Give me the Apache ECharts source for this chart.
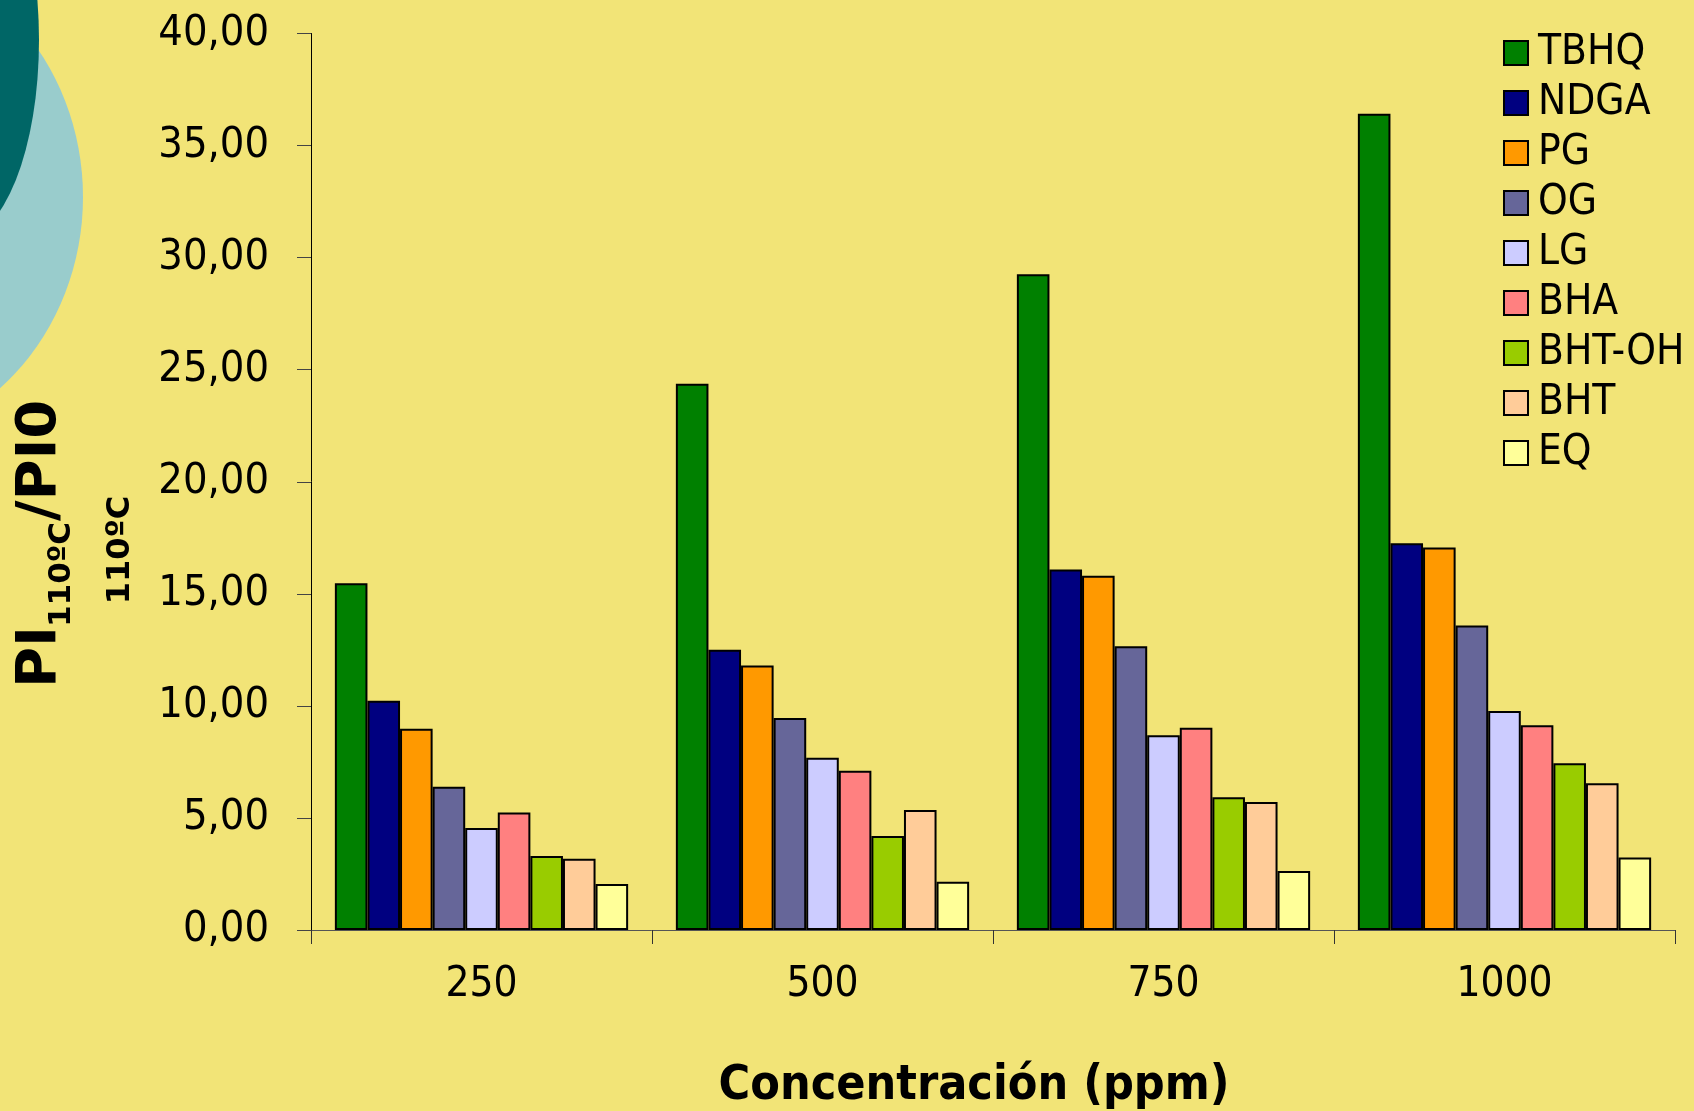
<!DOCTYPE html>
<html>
<head>
<meta charset="utf-8">
<script src="https://cdn.jsdelivr.net/npm/echarts@6/dist/echarts.min.js"></script>
<style>
html,body{margin:0;padding:0;background:#F2E477;}
#c{width:1694px;height:1111px;}
</style>
</head>
<body>
<div id="c"></div>
<script>
const categories = ['250', '500', '750', '1000'];
const seriesNames = ['TBHQ', 'NDGA', 'PG', 'OG', 'LG', 'BHA', 'BHT-OH', 'BHT', 'EQ'];
const tbhq  = [15.47, 24.37, 29.26, 36.42];
const ndga  = [10.23, 12.50, 16.08, 17.26];
const pg    = [8.98, 11.80, 15.81, 17.07];
const og    = [6.39, 9.46, 12.66, 13.59];
const lg    = [4.55, 7.68, 8.69, 9.77];
const bha   = [5.24, 7.10, 9.02, 9.14];
const bhtoh = [3.30, 4.19, 5.92, 7.44];
const bht   = [3.18, 5.35, 5.71, 6.55];
const eq    = [2.05, 2.15, 2.63, 3.24];
const seriesValues = [tbhq, ndga, pg, og, lg, bha, bhtoh, bht, eq];
const colors = ['#008000', '#000080', '#FF9900', '#666699', '#CCCCFF', '#FF8080', '#99CC00', '#FFCC99', '#FFFF99'];

const FONT = '"DejaVu Sans Condensed", "DejaVu Sans", sans-serif';
const chart = echarts.init(document.getElementById('c'), null, {renderer: 'canvas'});

const option = {
  backgroundColor: '#F2E477',
  animation: false,
  color: colors,
  grid: {left: 311, right: 19, top: 33.5, bottom: 181, containLabel: false},
  legend: {
    orient: 'vertical',
    left: 1503,
    top: 32,
    padding: 0,
    itemWidth: 24,
    itemHeight: 24,
    itemGap: 8,
    icon: 'rect',
    itemStyle: {borderColor: '#000', borderWidth: 2},
    textStyle: {fontFamily: FONT, fontSize: 42, color: '#000', padding: [0, 0, 0, 5]},
    data: seriesNames
  },
  xAxis: {
    type: 'category',
    data: categories,
    boundaryGap: true,
    axisLine: {show: true, lineStyle: {color: '#555', width: 1}},
    axisTick: {show: true, length: 14, inside: false, lineStyle: {color: '#333'}},
    axisLabel: {fontFamily: FONT, fontSize: 42, color: '#000', margin: 34}
  },
  yAxis: {
    type: 'value',
    min: 0,
    max: 40,
    interval: 5,
    splitLine: {show: false},
    axisLine: {show: true, lineStyle: {color: '#000', width: 1}},
    axisTick: {show: true, length: 14, inside: false, lineStyle: {color: '#444'}},
    axisLabel: {
      fontFamily: FONT, fontSize: 43, color: '#000', margin: 42,
      formatter: v => v.toFixed(2).replace('.', ',')
    }
  },
  series: seriesNames.map((name, i) => ({
    name: name,
    type: 'bar',
    data: seriesValues[i],
    barGap: '0%',
    barCategoryGap: '14%',
    itemStyle: {color: colors[i], borderColor: '#000', borderWidth: 2}
  })),
  graphic: [
    {type: 'circle', x: -150, y: 197, scaleX: 1, scaleY: 250 / 233, shape: {cx: 0, cy: 0, r: 233}, style: {fill: '#99CCCC'}, z: -10, silent: true},
    {type: 'circle', x: -40, y: 40, scaleX: 1, scaleY: 198 / 79, shape: {cx: 0, cy: 0, r: 79}, style: {fill: '#006666'}, z: -9, silent: true},
    {
      type: 'group', x: 40, y: 688, rotation: Math.PI / 2, z: 10,
      children: [
        {type: 'text', x: 0, y: 0, style: {text: 'PI', font: 'bold 56px "DejaVu Sans"', fill: '#000', align: 'left', verticalAlign: 'middle'}},
        {type: 'text', x: 61, y: 22, style: {text: '110ºC', font: 'bold 31px "DejaVu Sans"', fill: '#000', align: 'left', verticalAlign: 'middle'}},
        {type: 'text', x: 167, y: 0, style: {text: '/PI0', font: 'bold 56px "DejaVu Sans"', fill: '#000', align: 'left', verticalAlign: 'middle'}}
      ]
    },
    {
      type: 'group', x: 121, y: 550, rotation: Math.PI / 2, z: 10,
      children: [
        {type: 'text', x: 0, y: 0, style: {text: '110ºC', font: 'bold 32px "DejaVu Sans"', fill: '#000', align: 'center', verticalAlign: 'middle'}}
      ]
    },
    {type: 'text', x: 974, y: 1087, z: 10, style: {text: 'Concentración (ppm)', font: 'bold 48px ' + FONT, fill: '#000', align: 'center', verticalAlign: 'middle'}}
  ]
};
chart.setOption(option);
</script>
</body>
</html>
